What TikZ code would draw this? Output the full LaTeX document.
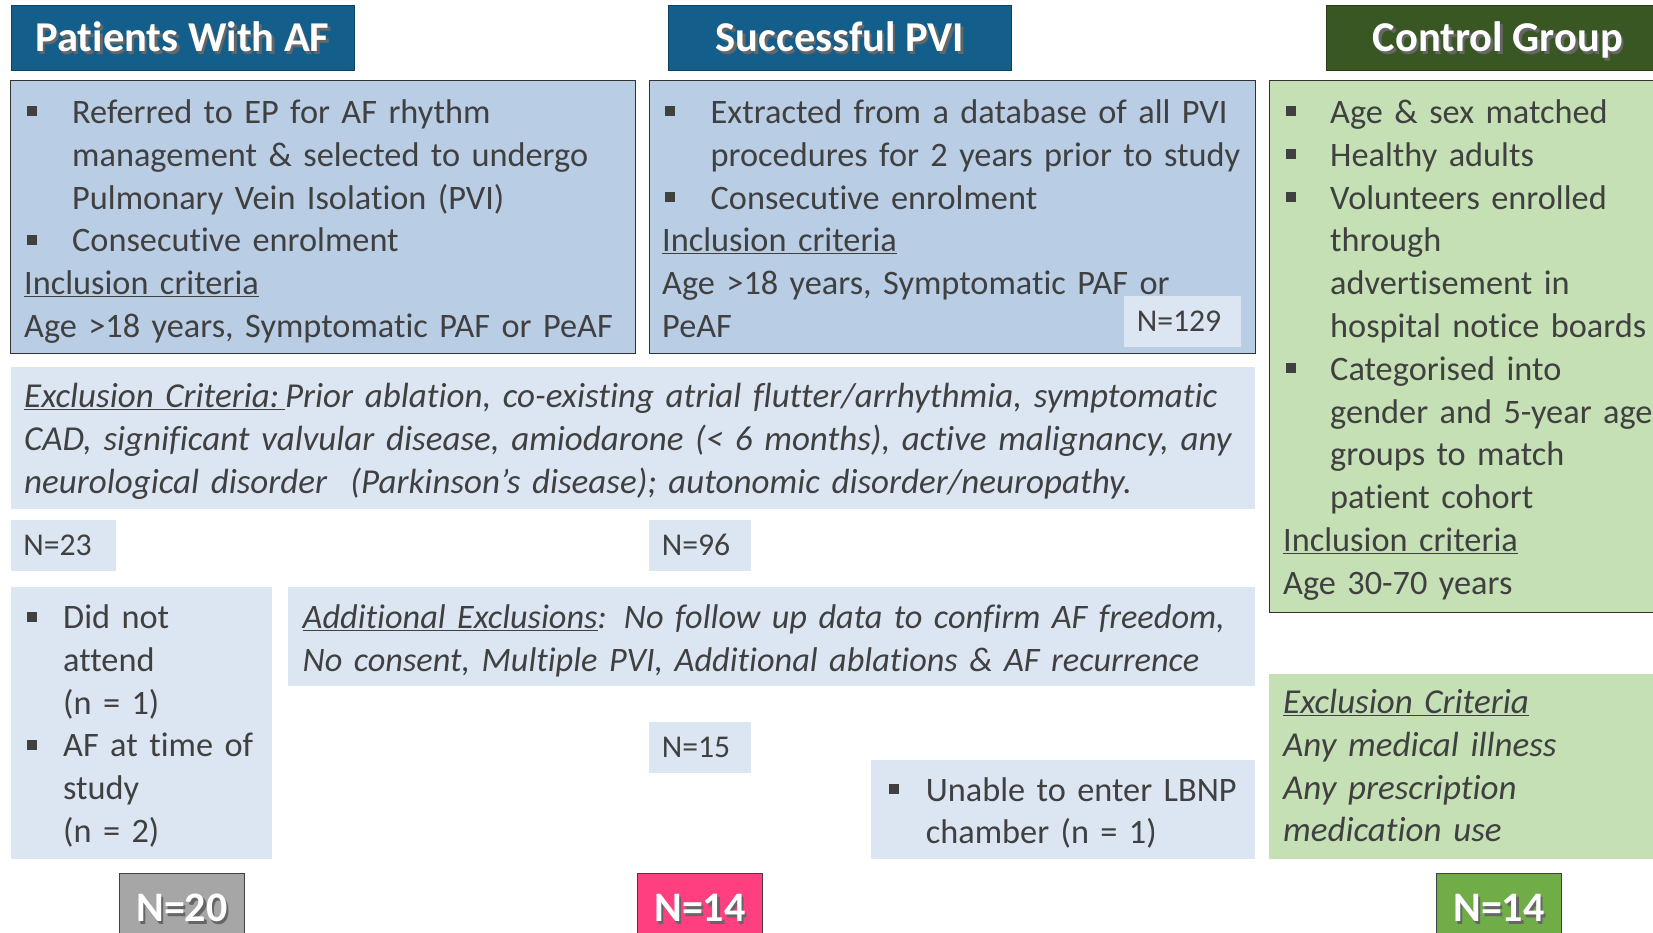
\documentclass[tikz,border=0pt]{standalone}
\usepackage{fontspec}
\setmainfont{Carlito}[Ligatures=CommonOff]

\definecolor{hdrblue}{HTML}{145E8C}
\definecolor{hdrgreen}{HTML}{385723}
\definecolor{boxblue}{HTML}{B9CDE5}
\definecolor{paleblue}{HTML}{DCE6F2}
\definecolor{palegreen}{HTML}{C5E0B4}
\definecolor{txtgray}{HTML}{404040}
\definecolor{npink}{HTML}{FF3F80}
\definecolor{ngreen}{HTML}{70AD47}
\definecolor{ngray}{HTML}{A6A6A6}

% square bullet with hanging indent
\newlength\bulind
\newlength\bulofs
\newcommand\bitem[1]{\noindent\hangindent=\bulind\hangafter=1%
  \makebox[\bulind][l]{\kern\bulofs\rule[7pt]{10pt}{10pt}}#1\par}
% white heading text with a drop shadow
\newcommand\shtext[1]{\rlap{\kern2.5pt\raisebox{-2.5pt}{\textcolor{black!60}{#1}}}#1}

\tikzset{
  every node/.style={inner sep=0pt},
  hdr/.style={fill=#1, draw=#1!70!black, line width=0.8pt, text=white,
    font=\bfseries\fontsize{42.5}{48}\selectfont,
    minimum width=343pt, minimum height=65pt,
    text height=27.4pt, text depth=0pt, anchor=north west},
  txt/.style={anchor=base west, text width=1300pt, align=left, text=txtgray,
    font=\fontsize{34.3}{42.8}\selectfont},
  itxt/.style={txt, font=\itshape\fontsize{#1}{42.8}\selectfont},
  ncount/.style={fill=paleblue, anchor=north west, text=txtgray,
    font=\fontsize{31.7}{38}\selectfont, align=left,
    text height=20.4pt, text depth=0pt, inner xsep=12.6pt, minimum height=51pt},
  ntotal/.style={fill=#1, draw=black!75, line width=0.8pt, text=white,
    font=\bfseries\fontsize{42}{48}\selectfont,
    minimum width=125pt, minimum height=70pt,
    text height=27pt, text depth=0pt, anchor=north west},
}

\begin{document}
\begin{tikzpicture}[x=1pt, y=-1pt]
  \useasboundingbox (0,0) rectangle (1653,933);
  \clip (0,0) rectangle (1653,933);

  % column headings
  \node[hdr=hdrblue]  (hpat) at (10.5,5.3) {\shtext{Patients With AF}};
  \node[hdr=hdrblue]  (hpvi) at (668,5.3)  {\shtext{Successful PVI}};
  \node[hdr=hdrgreen] (hctl) at (1326,5.3) {\shtext{Control Group}};

  % boxes
  \draw[fill=boxblue, draw=black!80, line width=1pt] (10.5,81) rectangle (635,353);
  \draw[fill=boxblue, draw=black!80, line width=1pt] (649,81) rectangle (1255,353);
  \draw[fill=palegreen, draw=black!80, line width=1pt] (1269,81) rectangle (1700,612);
  \fill[paleblue] (10.5,367) rectangle (1255,509);
  \fill[paleblue] (10.5,587) rectangle (272,859);
  \fill[paleblue] (288,587) rectangle (1255,686);
  \fill[paleblue] (871,760) rectangle (1255,859);
  \fill[palegreen] (1269,674) rectangle (1700,859);

  % patients
  \node[txt] (tpat) at (24,123.5) {\setlength\bulind{48pt}\setlength\bulofs{2.5pt}%
    \bitem{Referred to EP for AF rhythm\newline management \& selected to undergo\newline Pulmonary Vein Isolation (PVI)}
    \bitem{Consecutive enrolment}
    \noindent\underline{Inclusion criteria}\newline Age >18 years, Symptomatic PAF or PeAF};

  % PVI database
  \node[txt] (tpvi) at (662,123.5) {\setlength\bulind{48.5pt}\setlength\bulofs{2.5pt}%
    \bitem{Extracted from a database of all PVI\newline procedures for 2 years prior to study}
    \bitem{Consecutive enrolment}
    \noindent\underline{Inclusion criteria}\newline Age >18 years, Symptomatic PAF or\newline PeAF};

  % controls
  \node[txt] (tctl) at (1283,123.5) {\setlength\bulind{47pt}\setlength\bulofs{3pt}%
    \bitem{Age \& sex matched}
    \bitem{Healthy adults}
    \bitem{Volunteers enrolled\newline through\newline advertisement in\newline hospital notice boards}
    \bitem{Categorised into\newline gender and 5-year age\newline groups to match\newline patient cohort}
    \noindent\underline{Inclusion criteria}\newline Age 30-70 years};

  % exclusions
  \node[itxt=35] (texc) at (24,407.5)
    {\underline{Exclusion Criteria:\,}Prior ablation, co-existing atrial flutter/arrhythmia, symptomatic\newline
     CAD, significant valvular disease, amiodarone (< 6 months), active malignancy, any\newline
     neurological disorder\ \ (Parkinson’s disease); autonomic disorder/neuropathy.};

  \node[txt] (tdrop) at (27,628.5) {\setlength\bulind{36pt}\setlength\bulofs{0pt}%
    \bitem{Did not\newline attend\newline (n = 1)}
    \bitem{AF at time of\newline study\newline (n = 2)}};

  \node[itxt=34.3] (tadd) at (302.5,628.5)
    {\underline{Additional Exclusions}: No follow up data to confirm AF freedom,\newline
     No consent, Multiple PVI, Additional ablations \& AF recurrence};

  \node[txt] (tlbnp) at (889,801) {\setlength\bulind{36.6pt}\setlength\bulofs{0pt}%
    \bitem{Unable to enter LBNP\newline chamber (n = 1)}};

  \node[itxt=35] (tcex) at (1283,713.5)
    {\underline{Exclusion Criteria}\newline Any medical illness\newline Any prescription\newline medication use};

  % counts
  \node[ncount, text width=91.8pt] (n129) at (1124,296) {N=129};
  \node[ncount, text width=80.3pt] (n23) at (10.5,520) {N=23};
  \node[ncount, text width=76.8pt] (n96) at (649,520) {N=96};
  \node[ncount, text width=76.8pt] (n15) at (649,722) {N=15};

  % final numbers
  \node[ntotal=ngray]  (npat) at (119,873)  {\shtext{N=20}};
  \node[ntotal=npink]  (npvi) at (637,873)  {\shtext{N=14}};
  \node[ntotal=ngreen] (nctl) at (1436,873) {\shtext{N=14}};
\end{tikzpicture}
\end{document}
